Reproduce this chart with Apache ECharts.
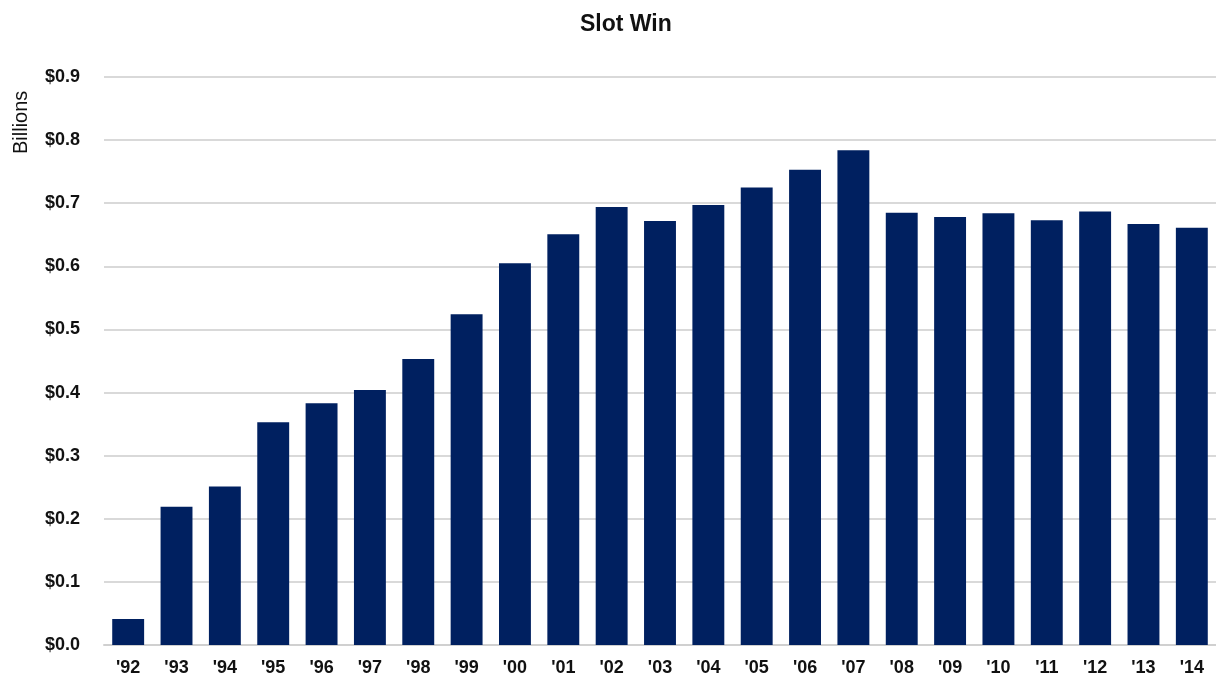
<!DOCTYPE html>
<html>
<head>
    <meta charset="utf-8">
    <title>Slot Win</title>
    <script src="https://cdn.jsdelivr.net/npm/echarts@6/dist/echarts.min.js"></script>
    <style>
        html, body { margin: 0; padding: 0; background: #fff; }
    </style>
</head>
<body>
    <div id="main" style="width: 1216px;height:688px;"></div>
    <script type="text/javascript">
        // data (billions)
        var years = ["'92","'93","'94","'95","'96","'97","'98","'99","'00","'01","'02","'03",
                     "'04","'05","'06","'07","'08","'09","'10","'11","'12","'13","'14"];
        var slotWin = [0.041, 0.219, 0.251, 0.353, 0.383, 0.404, 0.453, 0.524, 0.605, 0.651, 0.694, 0.672,
                       0.697, 0.725, 0.753, 0.784, 0.685, 0.678, 0.684, 0.673, 0.687, 0.667, 0.661];

        var font = '"Liberation Sans Narrow", "Liberation Sans", sans-serif';

        var myChart = echarts.init(document.getElementById('main'));
        myChart.setOption({
            animation: false,
            title: {
                text: 'Slot Win',
                left: 575,
                top: 8,
                textStyle: { fontFamily: font, fontSize: 23, fontWeight: 'bold', color: '#111' }
            },
            // rotated axis caption near the top of the value axis
            graphic: [{
                type: 'text',
                x: 11,
                y: 154,
                rotation: Math.PI / 2,
                style: { text: 'Billions', font: '20px ' + font, fill: '#111' }
            }],
            grid: { left: 104, right: -5, top: 77, bottom: 43 },
            xAxis: {
                type: 'category',
                data: years,
                axisTick: { show: false },
                axisLine: { lineStyle: { color: '#d0d0d0', width: 2 } },
                axisLabel: { margin: 14, fontFamily: font, fontSize: 18, fontWeight: 'bold', color: '#111' }
            },
            yAxis: {
                type: 'value',
                min: 0,
                max: 0.9,
                interval: 0.1,
                axisLine: { show: false },
                axisTick: { show: false },
                splitLine: { lineStyle: { color: '#d9d9d9', width: 2 } },
                axisLabel: {
                    margin: 24,
                    fontFamily: font, fontSize: 18, fontWeight: 'bold', color: '#111',
                    formatter: function (v) { return '$' + v.toFixed(1); }
                }
            },
            series: [{
                name: 'Slot Win',
                type: 'bar',
                data: slotWin,
                barCategoryGap: '34%',
                itemStyle: { color: '#002060' }
            }]
        });
    </script>
</body>
</html>
